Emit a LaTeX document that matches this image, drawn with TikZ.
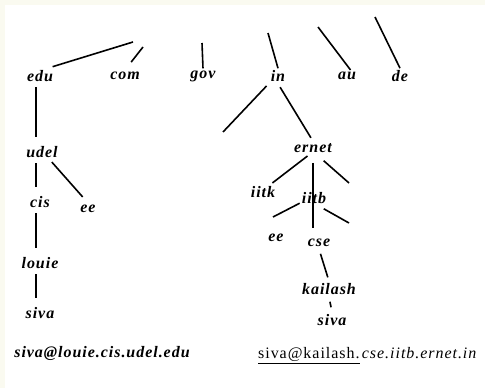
\documentclass[tikz,border=0pt]{standalone}
\usepackage{fontspec}
\setmainfont{Liberation Serif}
\newfontfamily\treefont[LetterSpace=6]{Liberation Serif}
\usetikzlibrary{positioning}
\definecolor{paper}{RGB}{250,250,240}

\begin{document}
\begin{tikzpicture}[x=1pt,y=-1pt,
    lbl/.style={font=\treefont\fontsize{16}{18}\selectfont\bfseries\itshape,inner sep=2pt},
    link/.style={line width=1.6pt},
    down/.style={link,shorten <=3.5pt,shorten >=7.5pt}]
    \fill[paper] (0,0) rectangle (485,388);
    \fill[white] (5,5) rectangle (485,388);
    % top level domains
    \node[lbl] (edu) at (40,76) {edu};
    \node[lbl] (com) at (125,76) {com};
    \node[lbl] (gov) at (203,76) {gov};
    \node[lbl] (in) at (278,76) {in};
    \node[lbl] (au) at (347,76) {au};
    \node[lbl] (de) at (400,76) {de};
    \coordinate (r1) at (133,42);
    \coordinate (r2) at (143,47);
    \coordinate (r3) at (202,43);
    \coordinate (r4) at (268,33);
    \coordinate (r5) at (318,27);
    \coordinate (r6) at (375,17);
    \draw[link,shorten <=5pt] (edu.45) -- (r1);
    \draw[link,shorten <=10pt] (com.north) -- (r2);
    \draw[link] (gov.north) -- (r3);
    \draw[link] (in.north) -- (r4);
    \draw[link] (au.60) -- (r5);
    \draw[link] (de.north) -- (r6);
    % udel branch
    \coordinate (spine) at (36,0);
    \node[lbl] (udel) at (42,152) {udel};
    \node[lbl] (cis) at (40,202) {cis};
    \node[lbl] (ee1) at (88,209) {ee};
    \node[lbl] (louie) at (40,263) {louie};
    \node[lbl] (siva1) at (40,313) {siva};
    \draw[down] (edu.south -| spine) -- (udel.north -| spine);
    \draw[down] (udel.south -| spine) -- (cis.north -| spine);
    \draw[down] (cis.south -| spine) -- (louie.north -| spine);
    \draw[down] (louie.south -| spine) -- (siva1.north -| spine);
    \draw[link,shorten <=3pt,shorten >=8pt] (udel.-45) -- (ee1.north);
    % ernet branch
    \node[lbl] (ernet) at (313,148) {ernet};
    \node[lbl] (iitk) at (263,192) {iitk};
    \node[lbl] (iitb) at (314,198) {iitb};
    \node[lbl] (ee2) at (276,238) {ee};
    \node[lbl] (cse) at (319,243) {cse};
    \node[lbl] (kailash) at (329,289) {kailash};
    \node[lbl] (siva2) at (332,320) {siva};
    \coordinate (r7) at (223,132);
    \coordinate (r8) at (349,183);
    \coordinate (r9) at (349,223);
    \coordinate (b1) at (273,217);
    \draw[link,shorten <=3pt] (in.south west) -- (r7);
    \draw[link,shorten <=4pt,shorten >=4pt] (in.south) -- (ernet.north);
    \draw[link,shorten <=2pt,shorten >=2pt] (ernet.-120) -- (iitk.45);
    \draw[link,shorten <=8pt,shorten >=9pt] (ernet.south) -- (ernet.south |- cse.north);
    \draw[link,shorten <=9pt] (ernet.-60) -- (r8);
    \draw[link] (iitb.-160) -- (b1);
    \draw[link,shorten <=6pt] (iitb.-60) -- (r9);
    \draw[link,shorten <=5pt,shorten >=4pt] (cse.south) -- (kailash.north);
    \draw[link,shorten <=5pt,shorten >=5pt] (kailash.south) -- (siva2.north);
    % addresses
    \node[lbl,inner sep=0pt] (addr1) at (102,353) {siva@louie.cis.udel.edu};
    \node[font=\treefont\fontsize{16}{18}\selectfont,anchor=base west,inner sep=0pt] (host) at (258,358) {siva@kailash.};
    \node[font=\treefont\fontsize{16}{18}\selectfont\itshape,inner sep=0pt,base right=2pt of host] (dom) {cse.iitb.ernet.in};
    \draw[line width=1.3pt] ([yshift=-2pt]host.south west) -- ([yshift=-2pt]host.south east);
\end{tikzpicture}
\end{document}
